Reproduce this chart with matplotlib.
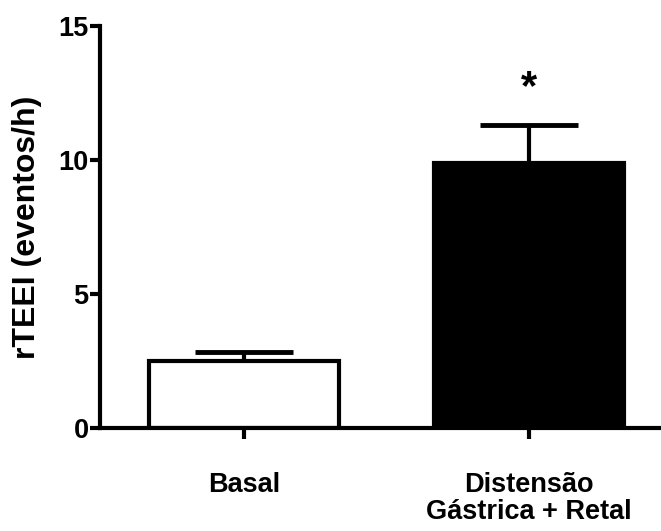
import matplotlib
matplotlib.use("Agg")
import matplotlib.pyplot as plt

categories = ["Basal", "Distensão\nGástrica + Retal"]
means = [2.5, 9.9]
errors = [0.34, 1.4]
colors = ["white", "black"]
yticks = [0, 5, 10, 15]

plt.rcParams['font.family'] = ['Liberation Sans', 'DejaVu Sans']
plt.rcParams['font.weight'] = 'bold'

fig = plt.figure(figsize=(6.61, 5.31), dpi=100)
ax = fig.add_axes([0.151, 0.194, 0.849, 0.757])

x = list(range(len(categories)))
ax.bar(x, means, width=0.665, color=colors, edgecolor="black", linewidth=3.0, zorder=2)
eb = ax.errorbar(x, means, yerr=[[0, 0], errors], fmt="none", ecolor="black",
                 elinewidth=3.0, capsize=35, capthick=3.5, zorder=1)
for cap in eb[1]:
    cap.set_solid_capstyle("round")
for xi, m, e in zip(x, means, errors):
    if xi == 1:
        ax.text(xi, m + e + 1.4, "*", ha="center", va="center", fontsize=30, fontweight="bold")

ax.set_xlim(-0.505, 1.463)
ax.set_ylim(0, 15)
ax.set_yticks(yticks)
ax.set_xticks(x)
ax.set_xticklabels(categories, fontsize=19.5, fontweight="bold", linespacing=1.05)
ax.tick_params(axis="y", labelsize=19.5, width=3, length=7, direction="out", pad=1)
ax.tick_params(axis="x", width=3, length=8, direction="out", pad=24)
for lab in ax.get_yticklabels():
    lab.set_fontweight("bold")
ax.set_ylabel("rTEEI (eventos/h)", fontsize=23, fontweight="bold", labelpad=12)
ax.spines["top"].set_visible(False)
ax.spines["right"].set_visible(False)
ax.spines["left"].set_linewidth(3)
ax.spines["bottom"].set_linewidth(3)

fig.savefig("out.png", dpi=100)
